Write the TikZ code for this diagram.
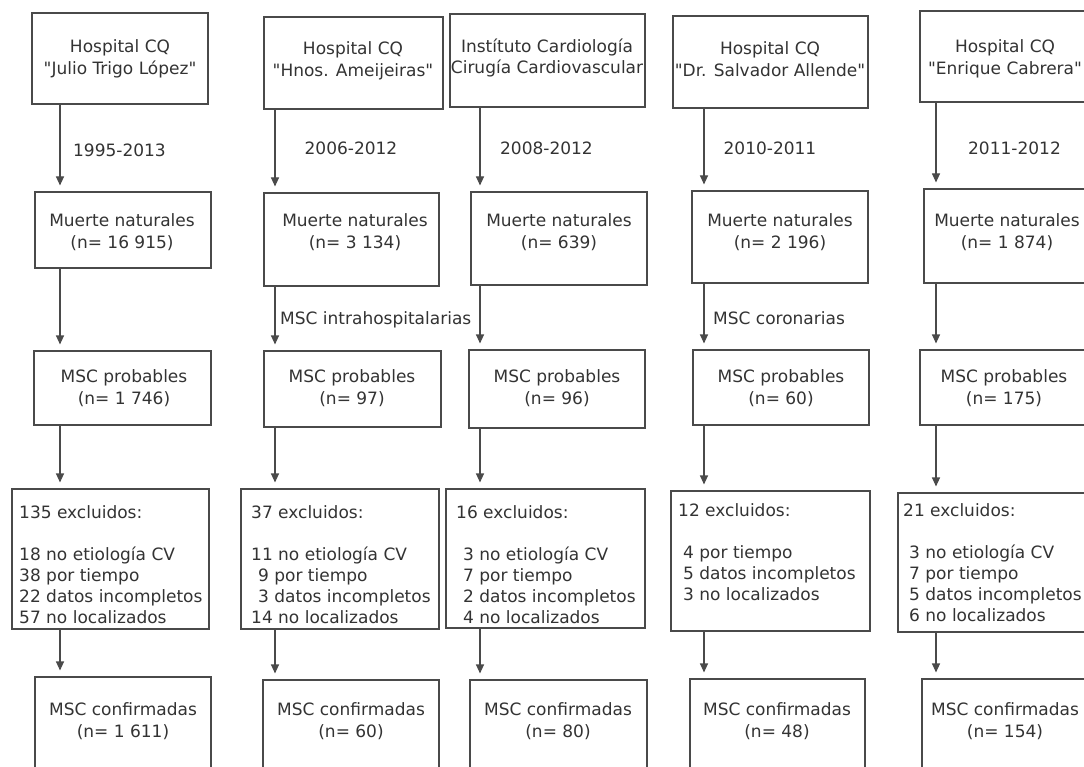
\documentclass[tikz,border=0pt]{standalone}
\usepackage{fontspec}
\setmainfont{DejaVu Sans}
\usetikzlibrary{arrows.meta}
\definecolor{ln}{HTML}{4A4A4A}
\definecolor{tx}{HTML}{333333}
\tikzset{
  boxn/.style={draw=ln, line width=1.1pt, inner sep=0pt, rectangle},
  txt/.style={text=tx, font=\fontsize{17}{21.5}\selectfont, inner sep=0pt, align=center},
  lst/.style={text=tx, font=\fontsize{17}{21}\selectfont, inner sep=0pt, align=left, anchor=north west},
  arr/.style={draw=ln, line width=1.1pt, -{Triangle[length=9pt,width=8pt]}, shorten >=6pt},
}
\newcommand\mybox[5]{\node[boxn, minimum width={#4-#2}, minimum height={#5-#3}] (#1) at ({(#2+#4)/2},{(#3+#5)/2}) {};}
\newcommand\qq{\textquotedbl}
\begin{document}
\begin{tikzpicture}[x=1pt,y=-1pt]
\clip (0,0) rectangle (1084,767);
\fill[white] (0,0) rectangle (1084,767);
% ---------- boxes ----------
\mybox{T1}{32}{13}{208}{104}
\mybox{M1}{35}{192}{211}{268}
\mybox{P1}{34}{351}{211}{425}
\mybox{E1}{12}{489}{209}{629}
\mybox{C1}{35}{677}{211}{790}
\mybox{T2}{264}{17}{443}{109}
\mybox{M2}{264}{193}{439}{286}
\mybox{P2}{264}{351}{441}{427}
\mybox{E2}{241}{489}{439}{629}
\mybox{C2}{263}{680}{439}{790}
\mybox{T3}{450}{14}{645}{107}
\mybox{M3}{471}{192}{647}{285}
\mybox{P3}{469}{350}{645}{428}
\mybox{E3}{446}{489}{645}{628}
\mybox{C3}{470}{680}{647}{790}
\mybox{T4}{673}{16}{868}{108}
\mybox{M4}{692}{191}{868}{283}
\mybox{P4}{693}{350}{869}{425}
\mybox{E4}{671}{491}{870}{631}
\mybox{C4}{690}{679}{865}{790}
\mybox{T5}{920}{11}{1092}{102}
\mybox{M5}{924}{189}{1090}{283}
\mybox{P5}{920}{350}{1088}{425}
\mybox{E5}{898}{493}{1095}{632}
\mybox{C5}{922}{679}{1090}{790}
% ---------- texts ----------
\node[txt] (T1t) at (120,59) {Hospital CQ\\\qq Julio Trigo López\qq};
\node[txt] (T2t) at (353,61) {Hospital CQ\\\qq Hnos. Ameijeiras\qq};
\node[txt] (T3t) at (547,58) {Instítuto Cardiología\\Cirugía Cardiovascular};
\node[txt] (T4t) at (770,59) {Hospital CQ\\\qq Dr. Salvador Allende\qq};
\node[txt] (T5t) at (1005,59) {Hospital CQ\\\qq Enrique Cabrera\qq};
\node[txt] (M1t) at (122,232) {Muerte naturales\\(n= 16 915)};
\node[txt] (M2t) at (355,232) {Muerte naturales\\(n= 3 134)};
\node[txt] (M3t) at (559,232) {Muerte naturales\\(n= 639)};
\node[txt] (M4t) at (780,232) {Muerte naturales\\(n= 2 196)};
\node[txt] (M5t) at (1007,232) {Muerte naturales\\(n= 1 874)};
\node[txt] (P1t) at (124,388) {MSC probables\\(n= 1 746)};
\node[txt] (P2t) at (352,388) {MSC probables\\(n= 97)};
\node[txt] (P3t) at (557,388) {MSC probables\\(n= 96)};
\node[txt] (P4t) at (781,388) {MSC probables\\(n= 60)};
\node[txt] (P5t) at (1004,388) {MSC probables\\(n= 175)};
\node[txt] (C1t) at (123,721) {MSC confirmadas\\(n= 1 611)};
\node[txt] (C2t) at (351,721) {MSC confirmadas\\(n= 60)};
\node[txt] (C3t) at (558,721) {MSC confirmadas\\(n= 80)};
\node[txt] (C4t) at (777,721) {MSC confirmadas\\(n= 48)};
\node[txt] (C5t) at (1005,721) {MSC confirmadas\\(n= 154)};
\node[lst] (E1t) at (19,505) {135 excluidos:\\[21pt]18 no etiología CV\\38 por tiempo\\22 datos incompletos\\57 no localizados};
\node[lst] (E2t) at (251,505) {37 excluidos:\\[21pt]11 no etiología CV\\\hspace*{7pt}9 por tiempo\\\hspace*{7pt}3 datos incompletos\\14 no localizados};
\node[lst] (E3t) at (456,505) {16 excluidos:\\[21pt]\hspace*{7pt}3 no etiología CV\\\hspace*{7pt}7 por tiempo\\\hspace*{7pt}2 datos incompletos\\\hspace*{7pt}4 no localizados};
\node[lst] (E4t) at (678,503) {12 excluidos:\\[21pt]\hspace*{5pt}4 por tiempo\\\hspace*{5pt}5 datos incompletos\\\hspace*{5pt}3 no localizados};
\node[lst] (E5t) at (903,503) {21 excluidos:\\[21pt]\hspace*{6pt}3 no etiología CV\\\hspace*{6pt}7 por tiempo\\\hspace*{6pt}5 datos incompletos\\\hspace*{6pt}6 no localizados};
% ---------- labels ----------
\node[txt] (Y1) at (119.5,150) {1995-2013};
\node[txt] (Y2) at (351,148) {2006-2012};
\node[txt] (Y3) at (546.5,148) {2008-2012};
\node[txt] (Y4) at (770,148) {2010-2011};
\node[txt] (Y5) at (1014.5,148) {2011-2012};
\node[txt, anchor=west] (L2) at (280,320) {MSC intrahospitalarias};
\node[txt, anchor=west] (L4) at (713,318) {MSC coronarias};
% ---------- arrows ----------
\coordinate (a1) at (60,0);
\coordinate (a2) at (275,0);
\coordinate (a3) at (480,0);
\coordinate (a4) at (704,0);
\coordinate (a5) at (936,0);
\foreach \c in {1,...,5}{
  \draw[arr] (T\c.south -| a\c) -- (M\c.north -| a\c);
  \draw[arr] (M\c.south -| a\c) -- (P\c.north -| a\c);
  \draw[arr] (P\c.south -| a\c) -- (E\c.north -| a\c);
  \draw[arr] (E\c.south -| a\c) -- (C\c.north -| a\c);
}
\end{tikzpicture}
\end{document}
